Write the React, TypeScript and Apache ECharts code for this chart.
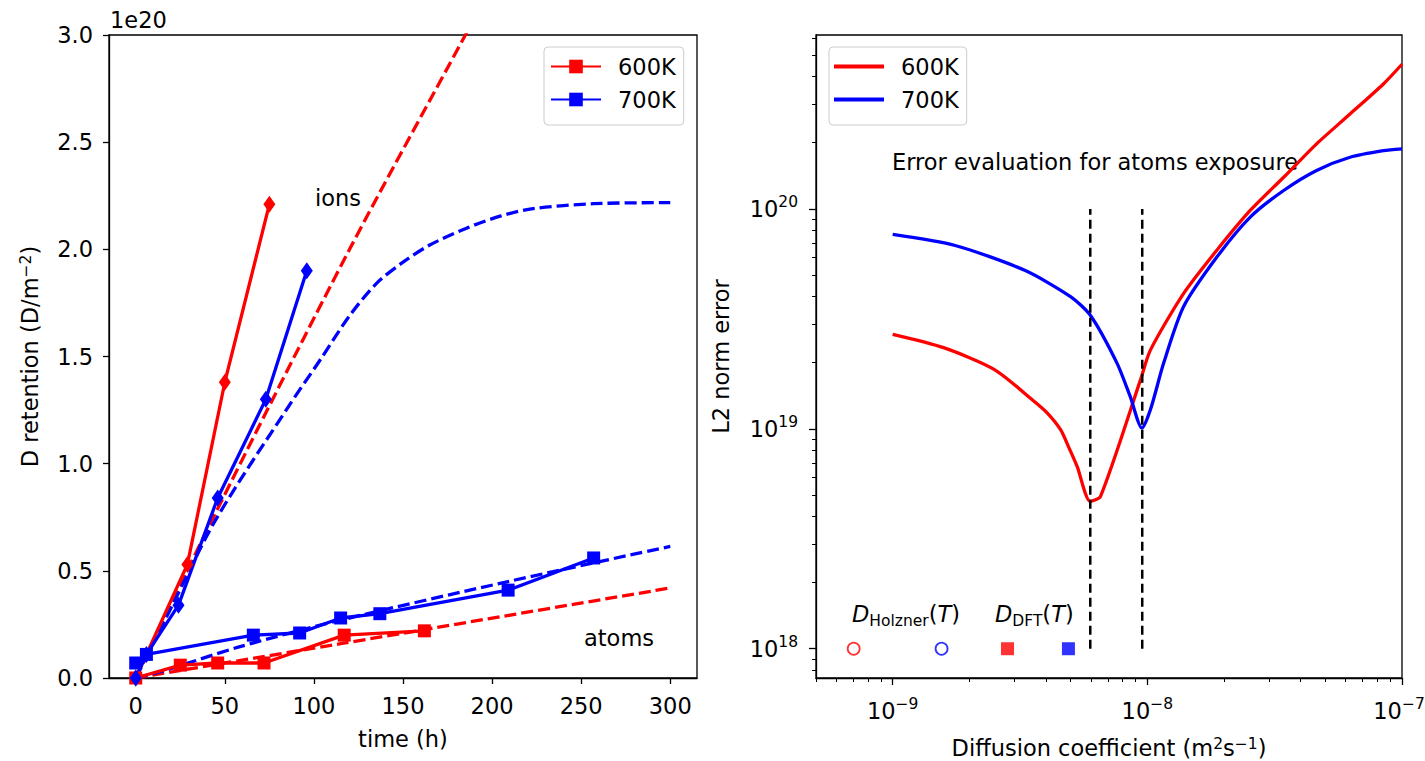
import React, { useEffect, useRef } from 'react';
import * as echarts from 'echarts';

const FONT = 'DejaVu Sans';
const RED = '#ff0000';
const BLUE = '#0000ff';
const FS = 22.5;
const SFS = 15.5;

// ---------- left panel: D retention vs time (values in units of 1e20 D/m^2) ----------
const timeTicks = [0, 50, 100, 150, 200, 250, 300];

const atoms600T = [0, 25, 46, 72, 117, 162];
const atoms600V = [0.0, 0.06, 0.07, 0.07, 0.2, 0.22];
const atoms700T = [0, 6, 66, 92, 115, 137, 209, 257];
const atoms700V = [0.07, 0.11, 0.2, 0.21, 0.28, 0.3, 0.41, 0.56];

const ions600T = [0, 29, 50, 75];
const ions600V = [0.0, 0.53, 1.38, 2.21];
const ions700T = [0, 6, 24, 46, 73, 96];
const ions700V = [0.0, 0.11, 0.34, 0.84, 1.3, 1.9];

const fitIons600T = [0, 43, 120, 185, 200];
const fitIons600V = [0, 0.74, 2.0, 3.0, 3.23];
const fitIons700T = [0, 20, 45, 86, 104, 120, 135, 150, 165, 186, 205, 223, 257, 300];
const fitIons700V = [0, 0.33, 0.74, 1.27, 1.49, 1.69, 1.84, 1.94, 2.02, 2.1, 2.156, 2.19, 2.213, 2.218];
const fitAtoms600T = [0, 50, 115, 165, 300];
const fitAtoms600V = [0, 0.07, 0.16, 0.23, 0.42];
const fitAtoms700T = [0, 17, 58, 115, 209, 300];
const fitAtoms700V = [0, 0.037, 0.145, 0.27, 0.45, 0.614];

// ---------- right panel: L2 norm error vs diffusion coefficient ----------
const dMajorTicks = [1e-9, 1e-8, 1e-7];
const dMinorTicks = [5e-10, 6e-10, 7e-10, 8e-10, 9e-10, 2e-9, 3e-9, 4e-9, 5e-9, 6e-9, 7e-9, 8e-9, 9e-9, 2e-8, 3e-8, 4e-8, 5e-8, 6e-8, 7e-8, 8e-8, 9e-8];
const eMajorTicks = [1e18, 1e19, 1e20];
const eMinorTicks = [8e17, 9e17, 2e18, 3e18, 4e18, 5e18, 6e18, 7e18, 8e18, 9e18, 2e19, 3e19, 4e19, 5e19, 6e19, 7e19, 8e19, 9e19, 2e20, 3e20, 4e20, 5e20, 6e20];

const d600 = [1.0e-9, 1.585e-9, 2.51e-9, 3.55e-9, 4.05e-9, 4.57e-9, 4.91e-9, 5.3e-9, 5.97e-9, 6.55e-9, 9.4e-9, 1.028e-8, 1.387e-8, 1.875e-8, 2.535e-8, 3.43e-8, 4.62e-8, 6.25e-8, 8.45e-8, 1.0e-7];
const err600 = [2.69e19, 2.34e19, 1.86e19, 1.35e19, 1.18e19, 9.89e18, 8.26e18, 6.75e18, 4.68e18, 4.93e18, 1.67e19, 2.28e19, 4.12e19, 6.49e19, 9.84e19, 1.393e20, 1.977e20, 2.7e20, 3.7e20, 4.55e20];
const d700 = [1.0e-9, 1.76e-9, 3.3e-9, 5.01e-9, 6.0e-9, 7.6e-9, 8.57e-9, 9.53e-9, 1.028e-8, 1.159e-8, 1.387e-8, 1.875e-8, 2.535e-8, 3.43e-8, 4.62e-8, 6.25e-8, 8.45e-8, 1.0e-7];
const err700 = [7.66e19, 6.82e19, 5.26e19, 3.98e19, 3.26e19, 1.99e19, 1.4e19, 1.007e19, 1.22e19, 1.99e19, 3.59e19, 6.04e19, 9.18e19, 1.213e20, 1.496e20, 1.718e20, 1.84e20, 1.875e20];

const minD = [5.97e-9, 9.55e-9];
const vlineE = [1e18, 1e20];

const holzner600 = 7.03e-10;
const holzner700 = 1.556e-9;
const dft600 = 2.825e-9;
const dft700 = 4.9e-9;
const markerE = 1e18;

const zip = (xs: number[], ys: number[]) => xs.map((x, i) => [x, ys[i]]);

const expLabel = (v: number) => {
  const e = Math.round(Math.log10(v));
  const t = e < 0 ? '\u2212' + -e : String(e);
  // the last label sits at the canvas edge: nudge it a little inward
  return v >= 1e-7 && v < 1e-6 ? `{b|10}{e|${t}}` : `{b|10}{s|${t}}`;
};

const supRich = {
  b: { fontSize: FS, lineHeight: 30, fontFamily: FONT, color: '#000' },
  s: { fontSize: SFS, lineHeight: 16, verticalAlign: 'top', fontFamily: FONT, color: '#000' },
  e: { fontSize: SFS, lineHeight: 16, verticalAlign: 'top', fontFamily: FONT, color: '#000', padding: [0, 6, 0, 0] },
};
const nameRich = {
  n: { fontSize: FS, lineHeight: 24, fontFamily: FONT, color: '#000' },
  s: { fontSize: SFS, lineHeight: 13, verticalAlign: 'top', fontFamily: FONT, color: '#000' },
};
const subRich = {
  i: { fontSize: FS, fontStyle: 'italic', lineHeight: 30, fontFamily: FONT, fill: '#000' },
  n: { fontSize: FS, lineHeight: 30, fontFamily: FONT, fill: '#000' },
  u: { fontSize: SFS, lineHeight: 16, verticalAlign: 'bottom', fontFamily: FONT, fill: '#000' },
};

const axisLineStyle = { color: '#000', width: 1.3 };

export default function App() {
  const ref = useRef<HTMLDivElement>(null);
  useEffect(() => {
    const chart = echarts.init(ref.current!, null, { renderer: 'svg' });

    const solidLine = (name: string, data: number[][], color: string, symbol: string, size: any) => ({
      name,
      type: 'line',
      xAxisIndex: 0,
      yAxisIndex: 0,
      data,
      symbol,
      symbolSize: size,
      showSymbol: true,
      lineStyle: { color, width: 3.3 },
      itemStyle: { color },
      z: 4,
    });
    const dashedLine = (name: string, data: number[][], color: string) => ({
      name,
      type: 'line',
      xAxisIndex: 0,
      yAxisIndex: 0,
      data,
      symbol: 'none',
      smooth: 0.3,
      clip: true,
      lineStyle: { color, width: 3.3, type: [12, 5] },
      itemStyle: { color },
      z: 3,
    });

    const legendText = {
      fontSize: FS,
      color: '#000',
      fontFamily: FONT,
      rich: { t: { fontSize: FS, color: '#000', fontFamily: FONT, padding: [0, 0, 0, 12] } },
    };

    const option: any = {
      animation: false,
      backgroundColor: '#fff',
      textStyle: { fontFamily: FONT },
      grid: [
        { left: 109, top: 35, width: 588, height: 643, show: true, borderColor: '#000', borderWidth: 1.3, backgroundColor: 'transparent', outerBoundsMode: 'none' },
        { left: 816, top: 35, width: 586, height: 643, show: true, borderColor: '#000', borderWidth: 1.3, backgroundColor: 'transparent', outerBoundsMode: 'none' },
      ],
      xAxis: [
        {
          type: 'value', gridIndex: 0, min: -15, max: 315,
          axisLine: { show: true, onZero: false, lineStyle: axisLineStyle },
          axisTick: { show: true, length: 6, lineStyle: axisLineStyle, customValues: timeTicks },
          axisLabel: { customValues: timeTicks, fontSize: FS, color: '#000', margin: 16, fontFamily: FONT },
          splitLine: { show: false },
          name: 'time (h)', nameLocation: 'middle', nameGap: 49,
          nameTextStyle: { fontSize: FS, color: '#000', fontFamily: FONT },
        },
        {
          type: 'log', logBase: 10, gridIndex: 1, min: 5e-10, max: 1e-7,
          axisLine: { show: true, onZero: false, lineStyle: axisLineStyle },
          axisTick: { show: true, length: 7, lineStyle: axisLineStyle, customValues: dMajorTicks },
          axisLabel: { customValues: dMajorTicks, formatter: expLabel, rich: supRich, margin: 18, color: '#000' },
          splitLine: { show: false },
          minorTick: { show: false },
          name: '{n|Diffusion coefficient (m}{s|2}{n|s}{s|\u22121}{n|)}', nameLocation: 'middle', nameGap: 58,
          nameTextStyle: { rich: nameRich },
        },
        {
          type: 'log', logBase: 10, gridIndex: 1, min: 5e-10, max: 1e-7, position: 'bottom',
          axisLine: { show: false, onZero: false },
          axisTick: { show: true, length: 4, lineStyle: { color: '#000', width: 1 }, customValues: dMinorTicks },
          axisLabel: { show: false },
          splitLine: { show: false },
        },
      ],
      yAxis: [
        {
          type: 'value', gridIndex: 0, min: 0, max: 3, interval: 0.5,
          axisLine: { show: true, onZero: false, lineStyle: axisLineStyle },
          axisTick: { show: true, length: 6, lineStyle: axisLineStyle },
          axisLabel: { formatter: (v: number) => v.toFixed(1), fontSize: FS, color: '#000', margin: 16, fontFamily: FONT },
          splitLine: { show: false },
          name: '{n|D retention (D/m}{s|\u22122}{n|)}', nameLocation: 'middle', nameGap: 67,
          nameTextStyle: { rich: nameRich },
        },
        {
          type: 'log', logBase: 10, gridIndex: 1, min: 7.36e17, max: 6.18e20,
          axisLine: { show: true, onZero: false, lineStyle: axisLineStyle },
          axisTick: { show: true, length: 7, lineStyle: axisLineStyle, customValues: eMajorTicks },
          axisLabel: { customValues: eMajorTicks, formatter: expLabel, rich: supRich, margin: 18, color: '#000' },
          splitLine: { show: false },
          minorTick: { show: false },
          name: 'L2 norm error', nameLocation: 'middle', nameGap: 84,
          nameTextStyle: { fontSize: FS, color: '#000', fontFamily: FONT },
        },
        {
          type: 'log', logBase: 10, gridIndex: 1, min: 7.36e17, max: 6.18e20, position: 'left',
          axisLine: { show: false, onZero: false },
          axisTick: { show: true, length: 4, lineStyle: { color: '#000', width: 1 }, customValues: eMinorTicks },
          axisLabel: { show: false },
          splitLine: { show: false },
        },
      ],
      legend: [
        {
          left: 544, top: 47, orient: 'vertical',
          data: ['600K', '700K'],
          formatter: (n: string) => `{t|${n}}`,
          itemWidth: 50, itemHeight: 17, itemGap: 10,
          padding: [8, 8, 14, 6],
          borderColor: '#cccccc', borderWidth: 1, borderRadius: 4, backgroundColor: '#fff',
          textStyle: legendText,
        },
        {
          left: 829, top: 47, orient: 'vertical',
          data: [{ name: '600K', icon: 'rect' }, { name: '700K', icon: 'rect' }],
          formatter: (n: string) => `{t|${n}}`,
          itemWidth: 50, itemHeight: 4, itemGap: 10,
          padding: [8, 8, 14, 5],
          borderColor: '#cccccc', borderWidth: 1, borderRadius: 4, backgroundColor: '#fff',
          textStyle: legendText,
        },
      ],
      graphic: [
        { type: 'text', left: 110, top: 8, style: { text: '1e20', fontSize: FS, fontFamily: FONT, fill: '#000' } },
        { type: 'text', left: 315, top: 186, style: { text: 'ions', fontSize: FS, fontFamily: FONT, fill: '#000' } },
        { type: 'text', left: 584, top: 626, style: { text: 'atoms', fontSize: FS, fontFamily: FONT, fill: '#000' } },
        { type: 'text', left: 892, top: 150, style: { text: 'Error evaluation for atoms exposure', fontSize: FS, fontFamily: FONT, fill: '#000' } },
        { type: 'text', left: 852, top: 602, style: { text: '{i|D}{u|Holzner}{n|(}{i|T}{n|)}', rich: subRich } },
        { type: 'text', left: 995, top: 602, style: { text: '{i|D}{u|DFT}{n|(}{i|T}{n|)}', rich: subRich } },
      ],
      series: [
        solidLine('600K', zip(atoms600T, atoms600V), RED, 'rect', 13),
        solidLine('700K', zip(atoms700T, atoms700V), BLUE, 'rect', 13),
        solidLine('600K ions', zip(ions600T, ions600V), RED, 'diamond', [12, 17]),
        solidLine('700K ions', zip(ions700T, ions700V), BLUE, 'diamond', [12, 17]),
        dashedLine('600K ions model', zip(fitIons600T, fitIons600V), RED),
        dashedLine('700K ions model', zip(fitIons700T, fitIons700V), BLUE),
        dashedLine('600K atoms model', zip(fitAtoms600T, fitAtoms600V), RED),
        dashedLine('700K atoms model', zip(fitAtoms700T, fitAtoms700V), BLUE),
        {
          name: '600K', type: 'line', xAxisIndex: 1, yAxisIndex: 1, data: zip(d600, err600),
          symbol: 'none', smooth: 0.25,
          lineStyle: { color: RED, width: 3.3 }, itemStyle: { color: RED },
        },
        {
          name: '700K', type: 'line', xAxisIndex: 1, yAxisIndex: 1, data: zip(d700, err700),
          symbol: 'none', smooth: 0.25,
          lineStyle: { color: BLUE, width: 3.3 }, itemStyle: { color: BLUE },
        },
        ...minD.map((d, i) => ({
          name: 'optimum ' + i, type: 'line', xAxisIndex: 1, yAxisIndex: 1,
          data: vlineE.map((e) => [d, e]), symbol: 'none',
          lineStyle: { color: '#000', width: 2.5, type: [9, 5] }, z: 5,
        })),
        {
          name: 'Holzner', type: 'scatter', xAxisIndex: 1, yAxisIndex: 1,
          data: [
            { value: [holzner600, markerE], itemStyle: { borderColor: RED } },
            { value: [holzner700, markerE], itemStyle: { borderColor: BLUE } },
          ],
          symbol: 'circle', symbolSize: 12,
          itemStyle: { color: '#fff', borderWidth: 1.8 },
        },
        {
          name: 'DFT', type: 'scatter', xAxisIndex: 1, yAxisIndex: 1,
          data: [
            { value: [dft600, markerE], itemStyle: { color: RED } },
            { value: [dft700, markerE], itemStyle: { color: BLUE } },
          ],
          symbol: 'rect', symbolSize: 13,
        },
      ],
    };
    chart.setOption(option);
    return () => chart.dispose();
  }, []);
  return (
    <div
      ref={ref}
      style={{ position: 'fixed', left: 0, top: 0, width: 1425, height: 761, background: '#fff' }}
    />
  );
}
